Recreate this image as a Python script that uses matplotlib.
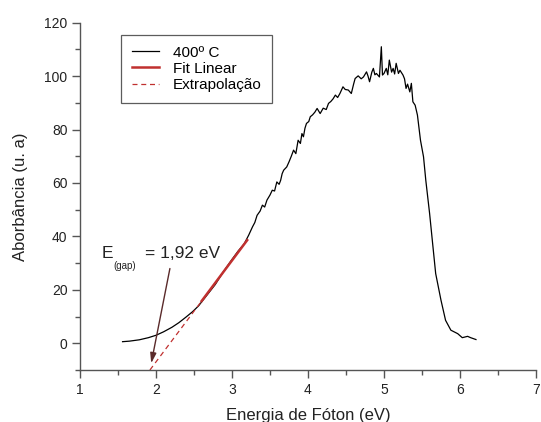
import matplotlib
matplotlib.use("Agg")
import matplotlib.pyplot as plt
from matplotlib.ticker import MultipleLocator

plt.rcParams['font.family'] = ['Liberation Sans', 'DejaVu Sans']

# Spectrum (400 ºC)
energy = [1.56, 1.65, 1.78, 1.90, 2.00, 2.10, 2.21, 2.30, 2.39, 2.48, 2.56, 2.67, 2.78, 2.88,
          2.99, 3.08, 3.16, 3.22, 3.27, 3.30, 3.33, 3.37, 3.40, 3.43, 3.46, 3.50, 3.53, 3.56,
          3.59, 3.62, 3.64, 3.66, 3.68, 3.72, 3.75, 3.78, 3.81, 3.84, 3.87, 3.90, 3.92, 3.94,
          3.96, 3.98, 4.01, 4.03, 4.06, 4.09, 4.12, 4.16, 4.20, 4.24, 4.27, 4.30, 4.33, 4.36,
          4.39, 4.42, 4.46, 4.49, 4.53, 4.57, 4.60, 4.62, 4.66, 4.70, 4.73, 4.77, 4.79, 4.81,
          4.84, 4.86, 4.88, 4.90, 4.94, 4.965, 4.98, 5.00, 5.03, 5.05, 5.07, 5.10, 5.12, 5.14,
          5.16, 5.19, 5.21, 5.25, 5.27, 5.29, 5.31, 5.34, 5.36, 5.38, 5.41, 5.44, 5.48, 5.52,
          5.55, 5.60, 5.64, 5.68, 5.75, 5.81, 5.88, 5.97, 6.03, 6.10, 6.14, 6.21]
absorb = [0.6, 0.8, 1.3, 2.1, 3.0, 4.3, 6.0, 7.7, 9.7, 11.8, 14.0, 18.0, 22.0, 26.5,
          31.0, 34.5, 37.2, 40.5, 43.6, 45.2, 47.9, 49.5, 51.7, 51.0, 53.6, 55.5, 57.3, 57.0,
          60.4, 59.5, 61.0, 63.5, 64.8, 66.0, 67.9, 70.0, 72.3, 71.0, 76.0, 74.8, 78.5, 77.3,
          80.5, 82.3, 83.0, 84.8, 85.5, 86.5, 87.9, 86.0, 88.0, 87.5, 89.8, 90.5, 91.5, 92.9,
          92.0, 93.5, 96.0, 95.0, 94.8, 93.5, 97.0, 99.1, 100.1, 99.0, 99.7, 101.6, 100.0, 97.9,
          101.5, 102.9, 100.5, 101.0, 99.7, 111.0, 100.4, 101.0, 102.9, 100.5, 106.0, 101.5, 102.9, 100.8,
          104.8, 101.0, 102.2, 100.4, 99.0, 95.4, 97.0, 94.1, 97.3, 90.4, 89.1, 85.4, 76.0, 69.8,
          61.0, 48.6, 37.3, 26.1, 16.1, 8.6, 4.9, 3.6, 2.1, 2.6, 2.1, 1.4]

# Linear fit and extrapolation
fit_x = [2.60, 3.20]
fit_y = [15.8, 38.6]
extrap_x = [1.92, 2.60]
extrap_y = [-10.0, 15.8]

series_labels = ['400º C', 'Fit Linear', 'Extrapolação']
x_ticks = [1, 2, 3, 4, 5, 6, 7]
y_ticks = [0, 20, 40, 60, 80, 100, 120]

fig = plt.figure(figsize=(5.41, 4.22), dpi=100)
ax = fig.add_axes([80 / 541, 52 / 422, 456 / 541, 347.3 / 422])

ax.plot(energy, absorb, color='black', lw=0.9, label=series_labels[0])
ax.plot(fit_x, fit_y, color='#c0302f', lw=1.8, label=series_labels[1])
ax.plot(extrap_x, extrap_y, color='#c0302f', lw=0.9, ls=(0, (4, 3)), label=series_labels[2])

ax.set_xlim(1, 7)
ax.set_ylim(-10, 120)
ax.set_xticks(x_ticks)
ax.set_yticks(y_ticks)
ax.xaxis.set_minor_locator(MultipleLocator(0.5))
ax.yaxis.set_minor_locator(MultipleLocator(10))

for s in ['top', 'right']:
    ax.spines[s].set_visible(False)
for s in ['left', 'bottom']:
    ax.spines[s].set_color('#555555')
    ax.spines[s].set_linewidth(1.0)

ax.tick_params(axis='both', which='major', direction='out', length=6, width=1.0,
               color='#555555', labelsize=10, labelcolor='#222222', pad=3)
ax.tick_params(axis='both', which='minor', direction='out', length=3.5, width=1.0,
               color='#555555')

ax.set_xlabel('Energia de Fóton (eV)', fontsize=12, color='#222222', labelpad=8)
ax.set_ylabel('Aborbância (u. a)', fontsize=12, color='#222222', labelpad=12)

leg = ax.legend(loc='upper left', bbox_to_anchor=(0.09, 0.965), fontsize=11,
                frameon=True, fancybox=False, edgecolor='#333333', borderpad=0.7,
                handlelength=1.8, handletextpad=0.9, labelspacing=0.15, borderaxespad=0)
leg.get_frame().set_linewidth(0.9)

ax.annotate('', xy=(1.93, -8.5), xytext=(2.19, 29),
            arrowprops=dict(arrowstyle='-|>,head_length=0.6,head_width=0.18',
                            color='#5a2a2a', lw=1.0))
ax.text(1.29, 33.5, 'E', fontsize=12.5, color='#222222', ha='left', va='center')
ax.text(1.435, 29.0, '(gap)', fontsize=7, color='#222222', ha='left', va='center')
ax.text(1.86, 33.5, '= 1,92 eV', fontsize=12.5, color='#222222', ha='left', va='center')

fig.savefig('out.png', dpi=100)
